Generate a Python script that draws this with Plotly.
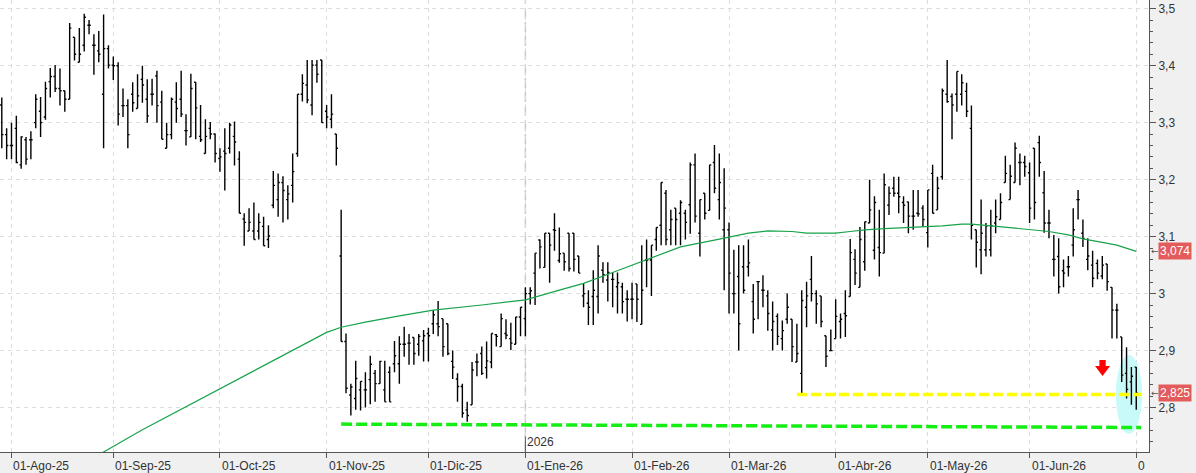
import plotly.graph_objects as go

# ---------------- data ----------------
opens = [3.331,3.279,3.26,3.29,3.226,3.27,3.27,3.30,3.32,3.31,3.372,3.381,3.36,3.356,3.341,3.45,3.406,3.436,3.471,3.436,
         3.426,3.35,3.43,3.401,3.40,3.33,3.33,3.35,3.325,3.376,3.341,3.35,3.382,3.336,3.255,3.279,3.336,3.341,3.286,3.275,
         3.371,3.276,3.246,3.29,3.28,3.237,3.25,3.255,3.276,3.236,3.131,3.11,3.11,3.11,3.118,3.095,3.155,3.165,3.195,3.165,
         3.19,3.246,3.35,3.366,3.331,3.401,3.41,3.32,3.306,3.28,3.066,2.916,2.822,2.816,2.831,2.831,2.849,2.86,2.842,2.831,
         2.862,2.877,2.877,2.911,2.913,2.923,2.911,2.917,2.93,2.947,2.947,2.956,2.947,2.881,2.85,2.837,2.796,2.805,2.88,2.895,
         2.87,2.88,2.928,2.907,2.93,2.921,2.911,2.959,2.956,3.0,3.036,3.094,3.046,3.106,3.112,3.058,3.071,3.106,3.106,3.066,
         2.996,2.983,2.995,2.995,3.041,3.024,3.025,3.012,3.012,2.99,2.99,3.017,2.946,3.059,3.059,3.095,3.12,3.176,3.112,3.15,
         3.141,3.141,3.156,3.226,3.106,3.176,3.146,3.23,3.165,3.112,3.112,3.0,3.03,3.047,3.047,2.986,3.021,3.006,2.996,2.936,
         2.96,2.921,2.955,2.955,2.88,2.86,2.976,3.025,3.0,2.996,2.926,2.90,2.921,2.951,2.965,2.995,3.06,3.011,3.056,3.124,
         3.076,3.081,3.071,3.155,3.185,3.176,3.16,3.161,3.136,3.141,3.15,3.107,3.211,3.147,3.205,3.35,3.346,3.35,3.35,3.355,
         3.29,3.112,3.077,3.077,3.077,3.124,3.13,3.195,3.165,3.195,3.23,3.23,3.212,3.255,3.265,3.177,3.124,3.06,3.065,3.04,
         3.047,3.085,3.165,3.106,3.06,3.05,3.053,3.031,3.052,3.011,2.971,2.924,2.86,2.845,2.871]
highs = [3.344,3.29,3.30,3.312,3.276,3.275,3.285,3.35,3.345,3.372,3.396,3.401,3.395,3.356,3.475,3.45,3.466,3.491,3.48,3.455,
         3.461,3.49,3.436,3.416,3.406,3.36,3.341,3.371,3.385,3.40,3.376,3.377,3.391,3.356,3.30,3.344,3.371,3.391,3.315,3.386,
         3.371,3.331,3.306,3.301,3.281,3.255,3.29,3.30,3.302,3.25,3.141,3.15,3.16,3.141,3.135,3.12,3.215,3.211,3.206,3.19,
         3.246,3.35,3.385,3.41,3.41,3.41,3.41,3.331,3.35,3.28,3.147,2.93,2.842,2.882,2.846,2.862,2.891,2.866,2.882,2.882,
         2.872,2.917,2.925,2.942,2.929,2.923,2.929,2.936,2.94,2.971,2.987,2.956,2.947,2.90,2.86,2.842,2.81,2.88,2.895,2.907,
         2.916,2.93,2.929,2.965,2.955,2.949,2.959,2.976,3.011,3.011,3.071,3.095,3.106,3.106,3.141,3.116,3.071,3.106,3.106,3.066,
         3.018,3.006,3.041,3.085,3.055,3.055,3.037,3.037,3.019,3.006,3.019,3.017,3.085,3.095,3.085,3.116,3.195,3.182,3.147,3.15,
         3.164,3.147,3.23,3.246,3.165,3.176,3.226,3.261,3.246,3.22,3.125,3.077,3.085,3.085,3.095,3.017,3.021,3.032,3.006,2.986,
         2.965,2.953,3.0,2.955,2.947,3.006,3.021,3.066,3.006,2.996,2.926,2.937,2.99,2.965,3.006,3.096,3.078,3.117,3.126,3.2,
         3.171,3.147,3.211,3.188,3.205,3.205,3.171,3.161,3.182,3.182,3.155,3.182,3.226,3.205,3.36,3.41,3.351,3.39,3.385,3.37,
         3.33,3.112,3.165,3.124,3.147,3.165,3.176,3.242,3.226,3.265,3.246,3.242,3.23,3.255,3.277,3.215,3.147,3.103,3.097,3.06,
         3.066,3.15,3.182,3.13,3.097,3.075,3.06,3.066,3.052,3.011,2.982,2.924,2.906,2.871,2.871]
lows = [3.255,3.236,3.236,3.229,3.219,3.226,3.236,3.29,3.275,3.305,3.344,3.354,3.33,3.319,3.341,3.409,3.406,3.425,3.455,3.384,
        3.406,3.255,3.395,3.375,3.295,3.31,3.255,3.319,3.325,3.335,3.30,3.33,3.30,3.271,3.255,3.271,3.30,3.31,3.26,3.275,
        3.271,3.266,3.246,3.271,3.23,3.214,3.181,3.246,3.225,3.141,3.084,3.11,3.095,3.095,3.084,3.08,3.15,3.135,3.125,3.13,
        3.16,3.24,3.337,3.334,3.313,3.37,3.30,3.29,3.29,3.225,2.916,2.825,2.786,2.796,2.795,2.80,2.806,2.81,2.842,2.81,
        2.81,2.862,2.842,2.889,2.875,2.875,2.891,2.881,2.881,2.929,2.925,2.889,2.892,2.85,2.81,2.782,2.775,2.805,2.855,2.857,
        2.851,2.869,2.907,2.907,2.92,2.901,2.911,2.925,2.925,2.981,2.98,3.044,3.046,3.019,3.075,3.054,3.04,3.039,3.039,3.036,
        2.976,2.945,2.945,2.965,3.019,2.986,2.976,2.965,2.965,2.951,2.955,2.95,2.946,3.011,2.996,3.075,3.085,3.085,3.085,3.085,
        3.085,3.095,3.105,3.125,3.065,3.13,3.146,3.176,3.13,3.006,2.965,2.965,2.90,3.0,3.03,2.93,2.955,2.976,2.935,2.90,
        2.91,2.90,2.947,2.88,2.88,2.825,2.941,2.986,2.947,2.941,2.871,2.90,2.921,2.921,2.924,2.995,3.015,3.011,3.04,3.124,
        3.06,3.03,3.071,3.138,3.17,3.141,3.124,3.106,3.112,3.135,3.117,3.081,3.141,3.147,3.20,3.335,3.271,3.319,3.33,3.31,
        3.095,3.046,3.034,3.065,3.065,3.106,3.13,3.195,3.165,3.195,3.19,3.205,3.124,3.13,3.205,3.107,3.097,3.03,3.0,3.011,
        3.03,3.065,3.13,3.082,3.041,3.011,3.025,3.025,3.005,2.921,2.921,2.845,2.816,2.805,2.796]
closes = [3.279,3.26,3.26,3.23,3.275,3.236,3.27,3.341,3.30,3.36,3.381,3.36,3.356,3.341,3.466,3.42,3.42,3.485,3.471,3.436,
          3.42,3.43,3.401,3.40,3.315,3.33,3.279,3.335,3.347,3.366,3.312,3.35,3.33,3.271,3.279,3.341,3.325,3.315,3.286,3.36,
          3.326,3.27,3.276,3.28,3.246,3.24,3.246,3.296,3.266,3.141,3.125,3.125,3.095,3.125,3.084,3.101,3.19,3.195,3.181,3.175,
          3.214,3.35,3.369,3.34,3.401,3.385,3.30,3.31,3.315,3.255,2.916,2.834,2.836,2.851,2.846,2.831,2.876,2.842,2.881,2.81,
          2.81,2.891,2.911,2.911,2.913,2.895,2.925,2.926,2.926,2.963,2.942,2.907,2.895,2.871,2.837,2.79,2.786,2.866,2.88,2.86,
          2.882,2.93,2.925,2.956,2.927,2.913,2.959,2.976,3.0,3.005,3.071,3.082,3.106,3.085,3.111,3.07,3.056,3.044,3.06,3.036,
          3.0,2.976,3.006,3.066,3.033,3.037,3.025,3.019,2.986,2.99,2.99,2.99,3.006,3.059,3.085,3.116,3.195,3.095,3.13,3.13,
          3.16,3.125,3.226,3.136,3.165,3.141,3.226,3.185,3.195,3.15,3.036,3.0,2.947,3.006,3.054,2.955,3.021,3.006,2.965,2.951,
          2.925,2.935,2.976,2.907,2.895,2.988,2.996,3.0,2.982,2.951,2.89,2.90,2.96,2.955,2.961,3.072,3.036,3.095,3.126,3.147,
          3.16,3.072,3.191,3.176,3.176,3.17,3.155,3.136,3.136,3.14,3.13,3.182,3.141,3.185,3.356,3.337,3.331,3.39,3.37,3.32,
          3.12,3.09,3.106,3.119,3.119,3.135,3.16,3.211,3.206,3.255,3.23,3.223,3.15,3.16,3.23,3.124,3.124,3.06,3.012,3.036,
          3.047,3.112,3.165,3.097,3.066,3.027,3.036,3.05,3.021,2.971,2.971,2.857,2.832,2.855,2.825]
bar_idx = list(range(len(closes)))

# moving average, read at sample bars
ma_idx = [18, 21, 29, 41, 52, 62, 67, 70, 75, 82, 89, 99, 108, 115, 120, 126, 133, 140, 147, 150, 154, 158,
          163, 166, 172, 175, 178, 182, 187, 194, 198, 200, 204, 208, 212, 216, 220, 223, 227, 230, 234]
ma_val = [2.708, 2.722, 2.761, 2.815, 2.865, 2.910, 2.932, 2.941, 2.950, 2.961, 2.971, 2.980, 2.989, 3.006, 3.018,
          3.037, 3.059, 3.082, 3.094, 3.099, 3.106, 3.110, 3.109, 3.106, 3.106, 3.109, 3.112, 3.114, 3.116,
          3.119, 3.122, 3.122, 3.119, 3.116, 3.113, 3.109, 3.103, 3.096, 3.090, 3.085, 3.074]

# drawn support lines
green_sup_x = [70, 235]
green_sup_y = [2.771, 2.765]
yellow_sup_x = [164, 235]
yellow_sup_y = [2.823, 2.823]

# axis ticks
month_idx = [2, 23, 45, 67, 88, 108, 130, 150, 172, 191, 212, 234]
month_lbl = ["01-Ago-25", "01-Sep-25", "01-Oct-25", "01-Nov-25", "01-Dic-25", "01-Ene-26",
             "01-Feb-26", "01-Mar-26", "01-Abr-26", "01-May-26", "01-Jun-26", "0"]
year_idx = 108
year_lbl = "2026"
ma_last_lbl = "3,074"
ma_last = 3.074
close_last_lbl = "2,825"
close_last = 2.825

# decorations
ellipse_x = [229.8, 235.2]
ellipse_y = [2.7536, 2.8922]
arrow_x = [225.5, 226.4, 227.05, 227.7, 228.6]
arrow_y = [2.8554, 2.873, 2.8835]

X_RANGE = [-0.37, 236.63]
Y_RANGE = [2.722, 3.5153]

FONT = "Liberation Sans"
TXT = "#333333"

fig = go.Figure()
fig.add_trace(go.Scatter(x=green_sup_x, y=green_sup_y, mode="lines",
                         line=dict(color="#14ee14", width=3.5, dash="11px,4px"), hoverinfo="skip"))
fig.add_trace(go.Scatter(x=yellow_sup_x, y=yellow_sup_y, mode="lines",
                         line=dict(color="#ffff00", width=3.5, dash="10px,4px"), hoverinfo="skip"))
fig.add_trace(go.Scatter(x=ma_idx, y=ma_val, mode="lines",
                         line=dict(color="#17a34a", width=1.2), hoverinfo="skip"))
fig.add_trace(go.Ohlc(x=bar_idx, open=opens, high=highs, low=lows, close=closes,
                      increasing=dict(line=dict(color="black", width=1.4)),
                      decreasing=dict(line=dict(color="black", width=1.4)),
                      tickwidth=0.35, hoverinfo="skip"))

shapes = [
    dict(type="circle", xref="x", yref="y", x0=ellipse_x[0], x1=ellipse_x[1], y0=ellipse_y[0], y1=ellipse_y[1],
         fillcolor="#c8fafa", line=dict(width=0), layer="between"),
    dict(type="line", xref="x", yref="paper", x0=year_idx, x1=year_idx, y0=0, y1=1,
         line=dict(color="#c8c8c8", width=1.5, dash="10px,4px"), layer="between"),
    dict(type="line", xref="x", yref="paper", x0=year_idx, x1=year_idx, y0=0, y1=0.034,
         line=dict(color="#555555", width=1), layer="above"),
    dict(type="path", xref="x", yref="y",
         path=(f"M {arrow_x[1]},{arrow_y[2]} L {arrow_x[3]},{arrow_y[2]} L {arrow_x[3]},{arrow_y[1]} "
               f"L {arrow_x[4]},{arrow_y[1]} L {arrow_x[2]},{arrow_y[0]} L {arrow_x[0]},{arrow_y[1]} "
               f"L {arrow_x[1]},{arrow_y[1]} Z"),
         fillcolor="#ff0000", line=dict(width=0), layer="above"),
]

annotations = []
for xi, lbl in zip(month_idx, month_lbl):
    annotations.append(dict(x=xi, xref="x", y=0, yref="paper", text=lbl, showarrow=False,
                            xanchor="left", yanchor="top", xshift=0, yshift=-5,
                            font=dict(family=FONT, size=12, color=TXT)))
annotations.append(dict(x=year_idx, xref="x", y=0, yref="paper", text=year_lbl, showarrow=False,
                        xanchor="left", yanchor="bottom", xshift=0, yshift=1,
                        font=dict(family=FONT, size=12, color=TXT)))
for val, lbl in [(ma_last, ma_last_lbl), (close_last, close_last_lbl)]:
    annotations.append(dict(x=1, xref="paper", y=val, yref="y", text=lbl, showarrow=False,
                            xanchor="left", yanchor="middle", xshift=9, bgcolor="#e35b5b",
                            borderpad=1, font=dict(family=FONT, size=12, color="white")))
    annotations.append(dict(x=1, xref="paper", y=val, yref="y", text="←", showarrow=False,
                            xanchor="left", yanchor="middle", xshift=0,
                            font=dict(family="DejaVu Sans", size=9, color="#555555")))

fig.update_layout(
    width=1196, height=473,
    margin=dict(l=0, r=47, t=0, b=21),
    paper_bgcolor="#f0f0f0", plot_bgcolor="white",
    showlegend=False, separators=",.",
    shapes=shapes, annotations=annotations,
    xaxis=dict(range=X_RANGE, rangeslider=dict(visible=False), tickmode="array", tickvals=month_idx,
               showticklabels=False, ticks="outside", ticklen=5, tickcolor="#555555",
               showgrid=True, gridcolor="#dcdcdc", griddash="4px,4px", gridwidth=1,
               showline=True, linecolor="#555555", linewidth=1, zeroline=False, fixedrange=True),
    yaxis=dict(range=Y_RANGE, side="right", tickmode="linear", tick0=0, dtick=0.1,
               ticks="outside", ticklen=6, tickcolor="#555555",
               minor=dict(dtick=0.02, tick0=0, ticks="outside", ticklen=3, tickcolor="#555555", showgrid=False),
               showgrid=True, gridcolor="#dcdcdc", griddash="4px,4px", gridwidth=1,
               showline=True, linecolor="#555555", linewidth=1, zeroline=False,
               tickfont=dict(family=FONT, size=12, color=TXT), fixedrange=True),
)

fig.write_html("out.html")
